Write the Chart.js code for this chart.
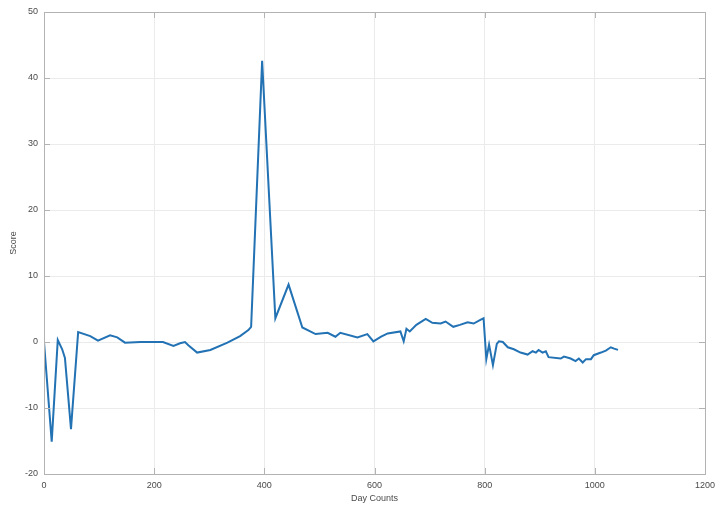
<!DOCTYPE html>
<html>
<head>
<meta charset="utf-8">
<script src="https://cdn.jsdelivr.net/npm/chart.js@4"></script>
<style>
  html,body{margin:0;padding:0;background:#fff;}
  #c{display:block;}
</style>
</head>
<body>
<canvas id="c" width="716" height="512"></canvas>
<script>
// values
const days = [0, 14, 25, 33, 38, 49, 62, 84, 98, 120, 133, 147, 175, 216, 235, 247, 256, 262, 278, 302, 333, 356, 371, 376,
  396, 420, 444, 469, 493, 515, 529, 538, 569, 587, 598, 612, 624, 647, 653, 658, 664, 676, 693, 705, 720, 729, 743, 755, 769, 780, 793, 798,
  803, 808, 815, 822, 826, 833, 842, 853, 865, 878, 887, 893, 898, 905, 911, 916, 938, 944, 956, 965, 971, 978, 984, 993, 998, 1011, 1020, 1029, 1035, 1042];
const scores = [0, -15.1, 0.3, -1.1, -2.4, -13.2, 1.5, 0.9, 0.2, 1.0, 0.7, -0.1, 0, 0, -0.6, -0.2, 0, -0.5, -1.6, -1.2, -0.1, 0.9, 1.8, 2.3,
  42.6, 3.6, 8.7, 2.2, 1.2, 1.4, 0.8, 1.4, 0.7, 1.2, 0.1, 0.8, 1.3, 1.6, 0.1, 2.0, 1.6, 2.6, 3.5, 2.9, 2.8, 3.1, 2.3, 2.6, 3.0, 2.8, 3.4, 3.6,
  -2.6, -0.4, -3.5, -0.3, 0.1, 0, -0.8, -1.1, -1.6, -1.9, -1.4, -1.6, -1.2, -1.6, -1.4, -2.3, -2.5, -2.2, -2.5, -2.9, -2.5, -3.1, -2.6, -2.6, -2.0, -1.6, -1.3, -0.8, -1.0, -1.2];
const xTicks = [0, 200, 400, 600, 800, 1000, 1200];
const yTicks = [-20, -10, 0, 10, 20, 30, 40, 50];

const fam = 'Liberation Sans, Arial, sans-serif';
const textCol = '#4a4a4a';

// matlab style box + inward ticks
const boxPlugin = {
  id: 'box',
  afterDraw(chart){
    const {ctx, chartArea: a, scales} = chart;
    ctx.save();
    ctx.strokeStyle = '#b3b3b3';
    ctx.lineWidth = 1;
    ctx.strokeRect(a.left + 0.5, a.top + 0.5, a.right - a.left, a.bottom - a.top);
    ctx.beginPath();
    xTicks.forEach(v=>{
      const px = Math.round(scales.x.getPixelForValue(v)) + 0.5;
      ctx.moveTo(px, a.bottom); ctx.lineTo(px, a.bottom - 6);
      ctx.moveTo(px, a.top); ctx.lineTo(px, a.top + 6);
    });
    yTicks.forEach(v=>{
      const py = Math.round(scales.y.getPixelForValue(v)) + 0.5;
      ctx.moveTo(a.left, py); ctx.lineTo(a.left + 6, py);
      ctx.moveTo(a.right, py); ctx.lineTo(a.right - 6, py);
    });
    ctx.stroke();
    ctx.restore();
  }
};

new Chart(document.getElementById('c'), {
  type: 'line',
  data: {
    datasets: [{
      data: days.map((d,i)=>({x:d, y:scores[i]})),
      borderColor: '#2272b4',
      borderWidth: 2,
      pointRadius: 0,
      tension: 0,
      fill: false
    }]
  },
  options: {
    responsive: false,
    animation: false,
    layout: {padding: {left: 8, top: 12, right: 11, bottom: 8}},
    plugins: {legend: {display: false}, tooltip: {enabled: false}},
    scales: {
      x: {
        type: 'linear', min: 0, max: 1200,
        afterBuildTicks: s=>{ s.ticks = xTicks.map(v=>({value:v})); },
        afterFit: s=>{ s.height = 30; s.paddingRight = 0; s.paddingLeft = 0; },
        grid: {color: '#ebebeb', drawTicks: false},
        border: {display: false},
        ticks: {font: {family: fam, size: 9}, color: textCol, padding: 6, maxRotation: 0, callback: v=>String(v)},
        title: {display: true, text: 'Day Counts', font: {family: fam, size: 9}, color: textCol, padding: {top: 0, bottom: 0}}
      },
      y: {
        type: 'linear', min: -20, max: 50,
        afterBuildTicks: s=>{ s.ticks = yTicks.map(v=>({value:v})); },
        afterFit: s=>{ s.width = 36; },
        grid: {color: '#ebebeb', drawTicks: false},
        border: {display: false},
        ticks: {font: {family: fam, size: 9}, color: textCol, padding: 6, callback: v=>String(v)},
        title: {display: true, text: 'Score', font: {family: fam, size: 9}, color: textCol, padding: {top: 0, bottom: 4}}
      }
    }
  },
  plugins: [boxPlugin]
});
</script>
</body>
</html>
